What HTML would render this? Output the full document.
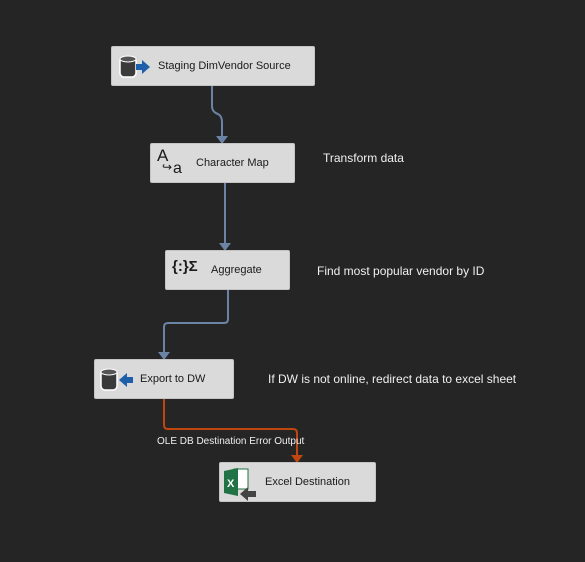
<!DOCTYPE html>
<html><head><style>
body{margin:0;width:585px;height:562px;background:#252526;overflow:hidden;font-family:"Liberation Sans",sans-serif;position:relative}
.b{position:absolute;background:#dadada;border:1px solid #c4c4c4;border-radius:2px;box-sizing:border-box;font-size:11px;color:#1a1a1a}
.b span{position:absolute;top:13px}
.t{position:absolute;color:#f0f0f0;font-size:12px}
svg{position:absolute;left:0;top:0}
</style></head><body>
<svg width="585" height="562">
<g fill="none" stroke="#6b84a6" stroke-width="2">
<path d="M212 86 V106 Q212 112 218 114 Q222 116 222 122 V137"/>
<path d="M225 183 V244"/>
<path d="M228 290 V319 Q228 323 224 323 H168 Q164 323 164 327 V353"/>
</g>
<g fill="#6b84a6"><path d="M216 136h12l-6 8z"/><path d="M219 243h12l-6 8z"/><path d="M158 352h12l-6 8z"/></g>
<path d="M164 399 V425 Q164 429 168 429 H293 Q297 429 297 433 V456" fill="none" stroke="#c0460f" stroke-width="2"/>
<path d="M291 455h12l-6 8z" fill="#c0460f"/>
</svg>
<div class="b" style="left:111px;top:46px;width:204px;height:40px">
<svg width="40" height="36" style="left:6px;top:4px"><rect x="2" y="6" width="16" height="20" rx="4" fill="#3a3a3a" stroke="#fff" stroke-width="1.5"/><ellipse cx="10" cy="8" rx="8" ry="3" fill="#555" stroke="#fff"/><path d="M18 13h6v-4l8 7-8 7v-4h-6z" fill="#1d5fa8"/></svg>
<span style="left:46px">Staging DimVendor Source</span></div>
<div class="b" style="left:150px;top:143px;width:145px;height:40px">
<span style="left:6px;top:2px;font-size:17px">A</span><span style="left:22px;top:16px;font-size:16px">a</span><span style="left:11px;top:16px;font-size:12px">↪</span>
<span style="left:45px">Character Map</span></div>
<div class="b" style="left:165px;top:250px;width:125px;height:40px">
<span style="left:6px;top:7px;font-size:15px;font-weight:bold">{:}Σ</span>
<span style="left:45px">Aggregate</span></div>
<div class="b" style="left:94px;top:359px;width:140px;height:40px">
<svg width="40" height="36" style="left:4px;top:4px"><rect x="2" y="6" width="16" height="20" rx="4" fill="#3a3a3a" stroke="#fff" stroke-width="1.5"/><ellipse cx="10" cy="8" rx="8" ry="3" fill="#555" stroke="#fff"/><path d="M34 13h-6v-4l-8 7 8 7v-4h6z" fill="#1d5fa8"/></svg>
<span style="left:45px">Export to DW</span></div>
<div class="b" style="left:219px;top:462px;width:157px;height:40px">
<svg width="40" height="36" style="left:2px;top:2px"><rect x="12" y="4" width="14" height="20" fill="#fff" stroke="#217346"/><path d="M2 6l14-3v28l-14-3z" fill="#217346"/><text x="5" y="22" fill="#fff" font-size="11" font-family="Liberation Sans" font-weight="bold">X</text><path d="M34 26h-8v-4l-8 7 8 7v-4h8z" fill="#444"/></svg>
<span style="left:45px">Excel Destination</span></div>
<div class="t" style="left:323px;top:151px">Transform data</div>
<div class="t" style="left:317px;top:264px">Find most popular vendor by ID</div>
<div class="t" style="left:268px;top:372px">If DW is not online, redirect data to excel sheet</div>
<div class="t" style="left:157px;top:436px;font-size:10px">OLE DB Destination Error Output</div>
</body></html>
